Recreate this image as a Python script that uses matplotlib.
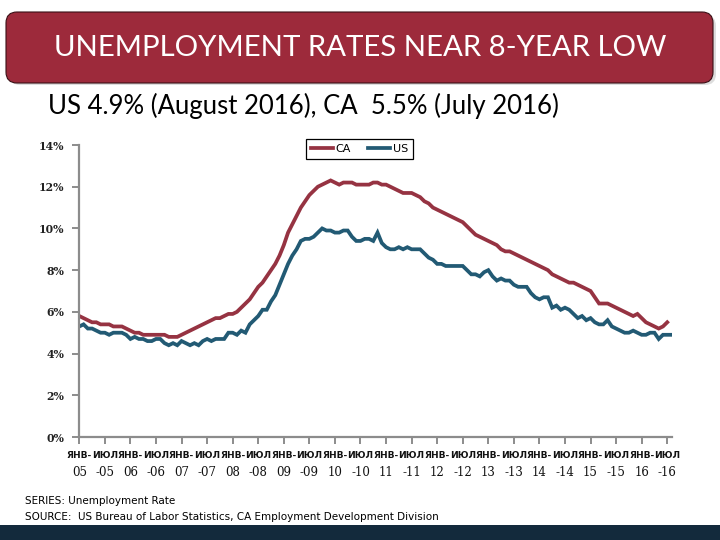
import matplotlib
matplotlib.use("Agg")
import matplotlib.pyplot as plt
from matplotlib.patches import FancyBboxPatch, Rectangle
import numpy as np

# ---------------- data ----------------
us_rate = [
    5.3, 5.4, 5.2, 5.2, 5.1, 5.0, 5.0, 4.9, 5.0, 5.0, 5.0, 4.9,   # 2005
    4.7, 4.8, 4.7, 4.7, 4.6, 4.6, 4.7, 4.7, 4.5, 4.4, 4.5, 4.4,   # 2006
    4.6, 4.5, 4.4, 4.5, 4.4, 4.6, 4.7, 4.6, 4.7, 4.7, 4.7, 5.0,   # 2007
    5.0, 4.9, 5.1, 5.0, 5.4, 5.6, 5.8, 6.1, 6.1, 6.5, 6.8, 7.3,   # 2008
    7.8, 8.3, 8.7, 9.0, 9.4, 9.5, 9.5, 9.6, 9.8, 10.0, 9.9, 9.9,  # 2009
    9.8, 9.8, 9.9, 9.9, 9.6, 9.4, 9.4, 9.5, 9.5, 9.4, 9.8, 9.3,   # 2010
    9.1, 9.0, 9.0, 9.1, 9.0, 9.1, 9.0, 9.0, 9.0, 8.8, 8.6, 8.5,   # 2011
    8.3, 8.3, 8.2, 8.2, 8.2, 8.2, 8.2, 8.0, 7.8, 7.8, 7.7, 7.9,   # 2012
    8.0, 7.7, 7.5, 7.6, 7.5, 7.5, 7.3, 7.2, 7.2, 7.2, 6.9, 6.7,   # 2013
    6.6, 6.7, 6.7, 6.2, 6.3, 6.1, 6.2, 6.1, 5.9, 5.7, 5.8, 5.6,   # 2014
    5.7, 5.5, 5.4, 5.4, 5.6, 5.3, 5.2, 5.1, 5.0, 5.0, 5.1, 5.0,   # 2015
    4.9, 4.9, 5.0, 5.0, 4.7, 4.9, 4.9, 4.9,                       # 2016 (Jan-Aug)
]
ca_rate = [
    5.8, 5.7, 5.6, 5.5, 5.5, 5.4, 5.4, 5.4, 5.3, 5.3, 5.3, 5.2,   # 2005
    5.1, 5.0, 5.0, 4.9, 4.9, 4.9, 4.9, 4.9, 4.9, 4.8, 4.8, 4.8,   # 2006
    4.9, 5.0, 5.1, 5.2, 5.3, 5.4, 5.5, 5.6, 5.7, 5.7, 5.8, 5.9,   # 2007
    5.9, 6.0, 6.2, 6.4, 6.6, 6.9, 7.2, 7.4, 7.7, 8.0, 8.3, 8.7,   # 2008
    9.2, 9.8, 10.2, 10.6, 11.0, 11.3, 11.6, 11.8, 12.0, 12.1, 12.2, 12.3,  # 2009
    12.2, 12.1, 12.2, 12.2, 12.2, 12.1, 12.1, 12.1, 12.1, 12.2, 12.2, 12.1,  # 2010
    12.1, 12.0, 11.9, 11.8, 11.7, 11.7, 11.7, 11.6, 11.5, 11.3, 11.2, 11.0,  # 2011
    10.9, 10.8, 10.7, 10.6, 10.5, 10.4, 10.3, 10.1, 9.9, 9.7, 9.6, 9.5,      # 2012
    9.4, 9.3, 9.2, 9.0, 8.9, 8.9, 8.8, 8.7, 8.6, 8.5, 8.4, 8.3,   # 2013
    8.2, 8.1, 8.0, 7.8, 7.7, 7.6, 7.5, 7.4, 7.4, 7.3, 7.2, 7.1,   # 2014
    7.0, 6.7, 6.4, 6.4, 6.4, 6.3, 6.2, 6.1, 6.0, 5.9, 5.8, 5.9,   # 2015
    5.7, 5.5, 5.4, 5.3, 5.2, 5.3, 5.5,                            # 2016 (Jan-Jul)
]
years = ["05", "06", "07", "08", "09", "10", "11", "12", "13", "14", "15", "16"]
tick_top = []
tick_bottom = []
for yy in years:
    tick_top += ["ЯНВ-", "ИЮЛ"]
    tick_bottom += [yy, "-" + yy]
y_ticks = [0, 2, 4, 6, 8, 10, 12, 14]

title = "UNEMPLOYMENT RATES NEAR 8-YEAR LOW"
subtitle = "US 4.9% (August 2016), CA  5.5% (July 2016)"
footer1 = "SERIES: Unemployment Rate"
footer2 = "SOURCE:  US Bureau of Labor Statistics, CA Employment Development Division"

CA_COLOR = "#963342"
US_COLOR = "#225a74"
BOX_COLOR = "#9d2a3b"
BAND_COLOR = "#132a3c"
AXIS_GRAY = "#8c8c8c"

W, H = 720, 540
fig = plt.figure(figsize=(7.2, 5.4), dpi=100)
fig.patch.set_facecolor("white")

# background layer in pixel coordinates
bg = fig.add_axes([0, 0, 1, 1], zorder=0)
bg.set_xlim(0, W)
bg.set_ylim(H, 0)
bg.axis("off")
bg.add_patch(FancyBboxPatch((9, 15), 707, 70, boxstyle="round,pad=0,rounding_size=11",
                            facecolor="#dddddd", edgecolor="none"))
bg.add_patch(FancyBboxPatch((6, 12), 707, 71, boxstyle="round,pad=0,rounding_size=11",
                            facecolor=BOX_COLOR, edgecolor="#3a1016", linewidth=0.8))
bg.text(360, 48, title, color="white", fontsize=21.2, family="Lato",
        ha="center", va="center")
bg.text(48, 106, subtitle, color="black", fontsize=18.5, family="Lato",
        ha="left", va="center")
bg.text(25, 501, footer1, color="black", fontsize=7.5, family="DejaVu Sans",
        ha="left", va="center")
bg.text(25, 517, footer2, color="black", fontsize=7.5, family="DejaVu Sans",
        ha="left", va="center")
bg.add_patch(Rectangle((0, 525), W, 15, facecolor=BAND_COLOR, edgecolor="none"))

# main chart
x0, x1 = 79.3, 671.5
yb, yt = 437, 145
ax = fig.add_axes([x0 / W, 1 - yb / H, (x1 - x0) / W, (yb - yt) / H], zorder=1)
ax.patch.set_alpha(0)

x_us = np.arange(len(us_rate))
x_ca = np.arange(len(ca_rate))
ax.plot(x_ca, ca_rate, color=CA_COLOR, lw=2.7, label="CA", solid_joinstyle="miter")
ax.plot(x_us, us_rate, color=US_COLOR, lw=2.7, label="US", solid_joinstyle="miter")

ax.set_xlim(0, len(us_rate) - 1)
ax.set_ylim(0, 14)
for s in ["top", "right"]:
    ax.spines[s].set_visible(False)
for s in ["left", "bottom"]:
    ax.spines[s].set_color(AXIS_GRAY)
    ax.spines[s].set_linewidth(1.6)

ax.set_yticks(y_ticks)
ax.set_yticklabels([f"{v}%" for v in y_ticks], fontsize=7.8, family="DejaVu Serif",
                   fontweight="bold")
ax.tick_params(axis="y", length=5, width=1.4, color=AXIS_GRAY, pad=6, labelcolor="#222222")

xt = np.arange(0, len(us_rate), 6)
ax.set_xticks(xt)
ax.set_xticklabels(tick_top[:len(xt)], fontsize=6.6, fontweight="bold", family="DejaVu Sans")
ax.tick_params(axis="x", length=5, width=1.4, color=AXIS_GRAY, pad=5, labelcolor="#111111")
xtr = ax.get_xaxis_transform()
for xi, lab in zip(xt, tick_bottom):
    ax.text(xi, -36.0 / (yb - yt), lab, ha="center", va="center", fontsize=8.5,
            family="DejaVu Serif", color="#111111", clip_on=False, transform=xtr)

leg = ax.legend(loc="center", bbox_to_anchor=(359.5 / W, 1 - 148.5 / H),
                bbox_transform=fig.transFigure, ncol=2, fontsize=8, frameon=True,
                fancybox=False, edgecolor="black", framealpha=1,
                handlelength=2.0, columnspacing=1.5, handletextpad=0.25,
                borderpad=0.45)
leg.get_frame().set_linewidth(0.9)

fig.savefig("out.png", dpi=100)
